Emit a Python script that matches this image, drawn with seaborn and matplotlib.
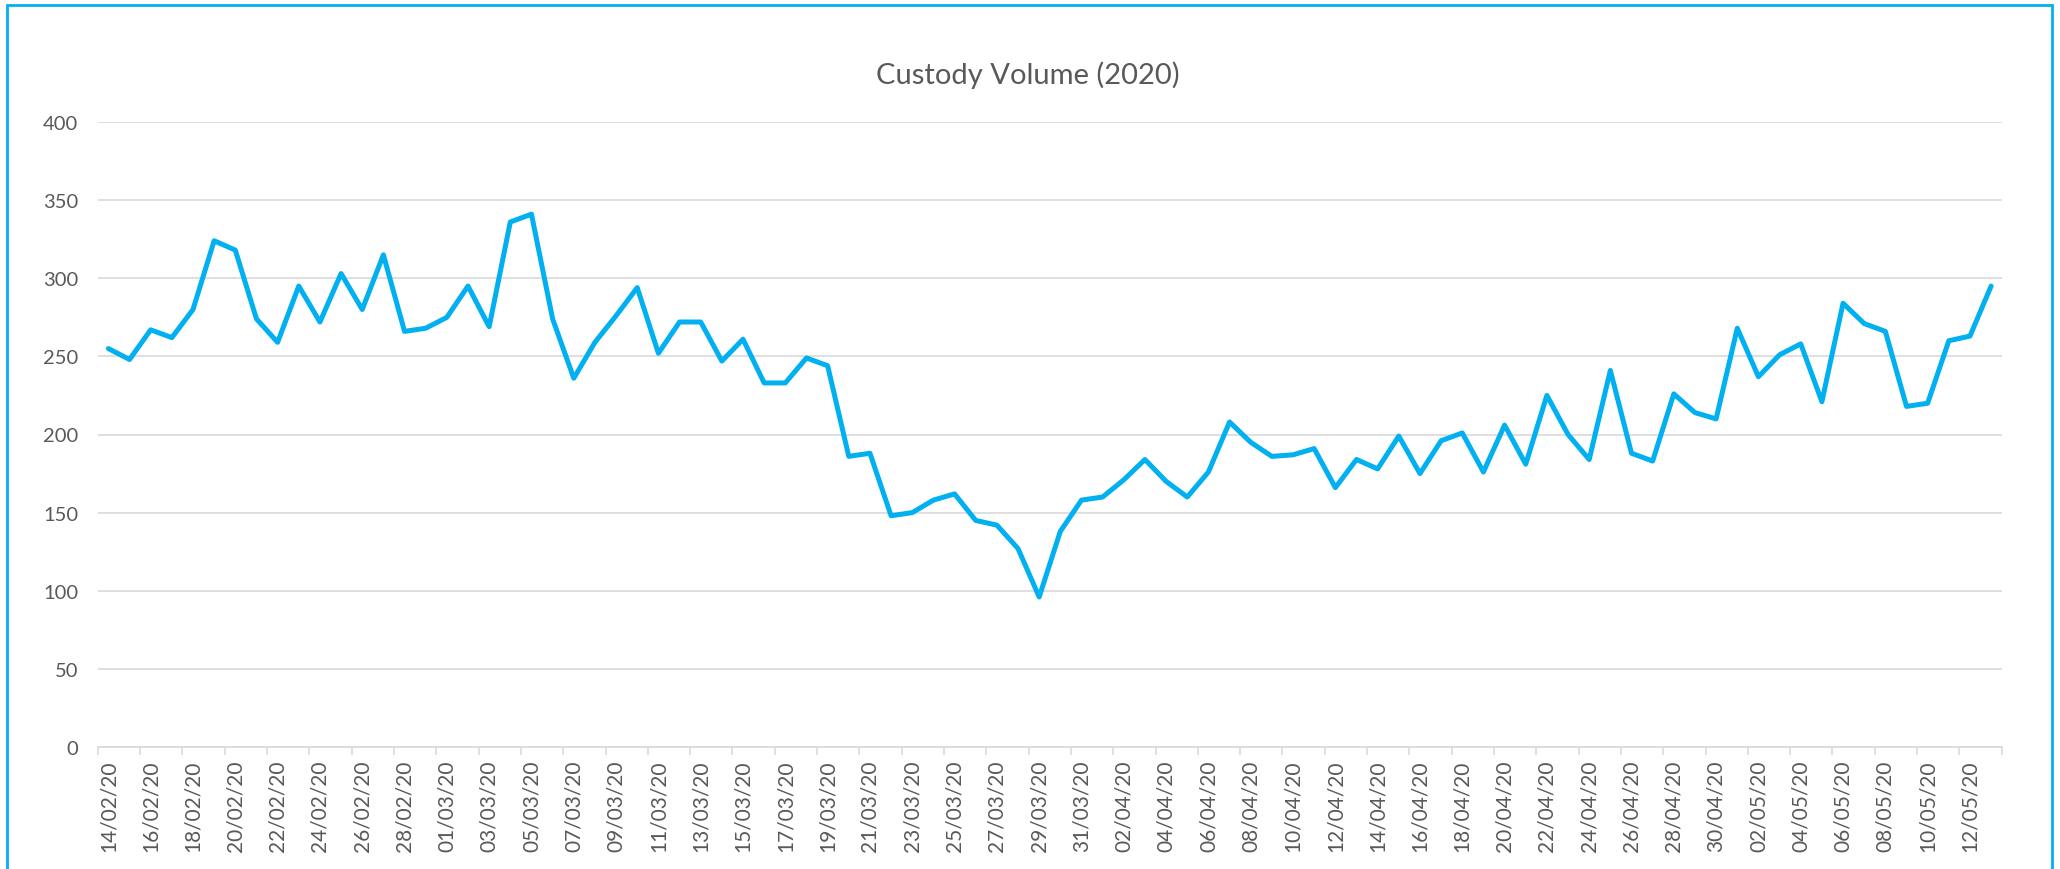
import matplotlib
matplotlib.use("Agg")
import matplotlib.pyplot as plt
from matplotlib.patches import Rectangle
import pandas as pd
import seaborn as sns

# -------------------------------------------------------- #
# data (one value per calendar day)
start_date = "2020-02-14"
end_date = "2020-05-13"
volume = [
    255, 248, 267, 262, 280, 324, 318, 274, 259, 295,
    272, 303, 280, 315, 266, 268, 275, 295, 269, 336,
    341, 274, 236, 259, 276, 294, 252, 272, 272, 247,
    261, 233, 233, 249, 244, 186, 188, 148, 150, 158,
    162, 145, 142, 127, 96, 138, 158, 160, 171, 184,
    170, 160, 176, 208, 195, 186, 187, 191, 166, 184,
    178, 199, 175, 196, 201, 176, 206, 181, 225, 200,
    184, 241, 188, 183, 226, 214, 210, 268, 237, 251,
    258, 221, 284, 271, 266, 218, 220, 260, 263, 295,
]
y_ticks = [0, 50, 100, 150, 200, 250, 300, 350, 400]
title = "Custody Volume (2020)"

dates = pd.date_range(start_date, end_date, freq="D")
df = pd.DataFrame({"date": dates, "volume": volume})

# -------------------------------------------------------- #
sns.set_theme(style="white")
plt.rcParams["font.family"] = ["Lato", "DejaVu Sans"]

line_color = "#00B0F0"
grid_color = "#D9D9D9"
text_color = "#595959"

fig = plt.figure(figsize=(20.6, 8.7), dpi=100)
ax = fig.add_axes([97.8 / 2060, 1 - 748 / 870, (2001.7 - 97.8) / 2060, (748 - 123) / 870])

sns.lineplot(data=df, x="date", y="volume", ax=ax, color=line_color, linewidth=3.6)

half_day = pd.Timedelta(hours=12)
ax.set_xlim(dates[0] - half_day, dates[-1] + half_day)
ax.set_ylim(0, 400)
ax.set_yticks(y_ticks)

# labels every two days, tick marks on the day boundaries
label_dates = dates[::2]
ax.set_xticks(label_dates)
ax.set_xticklabels([d.strftime("%d/%m/%y") for d in label_dates], rotation=90)
minor = list(label_dates - half_day) + [dates[-1] + half_day]
ax.set_xticks(minor, minor=True)

ax.tick_params(axis="x", which="major", length=0, pad=9, labelsize=15, colors=text_color)
ax.tick_params(axis="x", which="minor", length=6, width=1.2, color=grid_color, bottom=True)
ax.tick_params(axis="y", length=0, pad=14, labelsize=14.5, colors=text_color)

ax.grid(axis="y", color=grid_color, linewidth=1.2)
ax.set_axisbelow(True)
for side in ["top", "right", "left"]:
    ax.spines[side].set_visible(False)
ax.spines["bottom"].set_color(grid_color)
ax.spines["bottom"].set_linewidth(1.2)
ax.set_xlabel("")
ax.set_ylabel("")

fig.text(0.499, 1 - 75 / 870, title, ha="center", va="center", fontsize=21, color=text_color)

# chart border
fig.add_artist(Rectangle((7 / 2060, -0.05), (2052 - 7) / 2060, 1.05 - 6 / 870,
                         transform=fig.transFigure, fill=False, edgecolor=line_color, linewidth=2))

# -------------------------------------------------------- #
plt.savefig("out.png", dpi=100)
